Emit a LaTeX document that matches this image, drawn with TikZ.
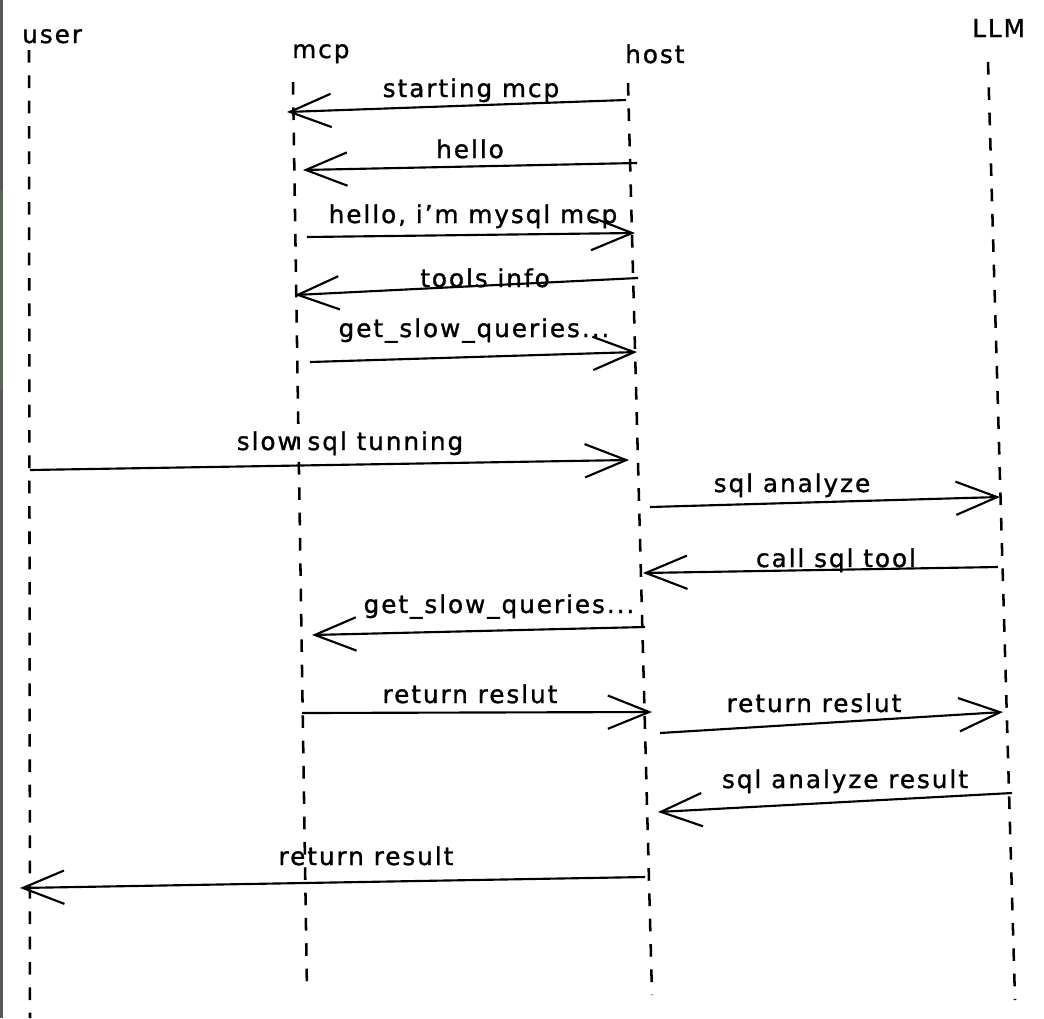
\documentclass[tikz,border=0pt]{standalone}
\usepackage{fontspec}
\usepackage{tikz}
\usetikzlibrary{arrows.meta}
\newfontfamily\handfont[LetterSpace=8, FakeBold=1.2]{DejaVu Sans}
\definecolor{edgegray}{RGB}{88,88,88}
\definecolor{edgegreen}{RGB}{90,100,88}

\begin{document}
\begin{tikzpicture}[x=0.75pt, y=-0.75pt,
    lifeline/.style={black, line width=1.9pt, dash pattern=on 9.5pt off 9.5pt},
    msg/.style={black, line width=1.6pt,
      -{Straight Barb[length=31pt, width=25pt, line width=1.6pt]}},
    lbl/.style={font=\handfont\fontsize{18.5}{18.5}\selectfont, inner sep=0pt, anchor=base},
    head/.style={font=\handfont\fontsize{18.5}{18.5}\selectfont, inner sep=0pt, anchor=base west}]
  % --- Canvas ---
  \fill[white] (0,0) rectangle (1044,1018);
  \useasboundingbox (0,0) rectangle (1044,1018);
  \fill[edgegray] (0,0) rectangle (3,1018);
  \fill[edgegreen] (0,190) rectangle (3,390);
  % --- Participants ---
  \node[head] (user) at (22,43) {user};
  \node[head] (mcp)  at (292,58) {mcp};
  \node[head] (host) at (625,63) {host};
  \node[head] (llm)  at (972,37) {LLM};
  % --- Lifelines ---
  \foreach \p/\xa/\ya/\xb/\yb in {user/29/50/30/1018, mcp/293/82/307/993,
                                  host/628/83/652/995, llm/988/62/1015/1000} {
    \coordinate (\p top) at (\xa,\ya);
    \coordinate (\p bot) at (\xb,\yb);
    \draw[lifeline] (\p top) -- (\p bot);
  }
  % --- Messages: from, to, label ---
  \foreach \n/\xa/\ya/\xb/\yb/\lx/\ly/\t in {
      m1/626/100/287/112/471/97/{starting mcp},
      m2/637/163/303/170/470/158/{hello},
      m3/307/237/635/233/473/223/{hello, i’m mysql mcp},
      m4/638/278/295/295/485/287/{tools info},
      m5/310/362/637/352/474/337/{get\_slow\_queries...},
      m6/30/470/629/460/350/450/{slow sql tunning},
      m7/650/507/1000/497/792/492/{sql analyze},
      m8/998/567/643/573/836/567/{call sql tool},
      m9/645/627/312/635/499/613/{get\_slow\_queries...},
      m10/302/713/652/712/470/703/{return reslut},
      m11/660/733/1003/712/814/712/{return reslut},
      m12/1012/793/658/812/845/788/{sql analyze result},
      m13/645/877/20/888/366/865/{return result}} {
    \coordinate (\n a) at (\xa,\ya);
    \coordinate (\n b) at (\xb,\yb);
    \node[lbl] (\n l) at (\lx,\ly) {\t};
    \draw[msg] (\n a) -- (\n b);
  }
\end{tikzpicture}
\end{document}
